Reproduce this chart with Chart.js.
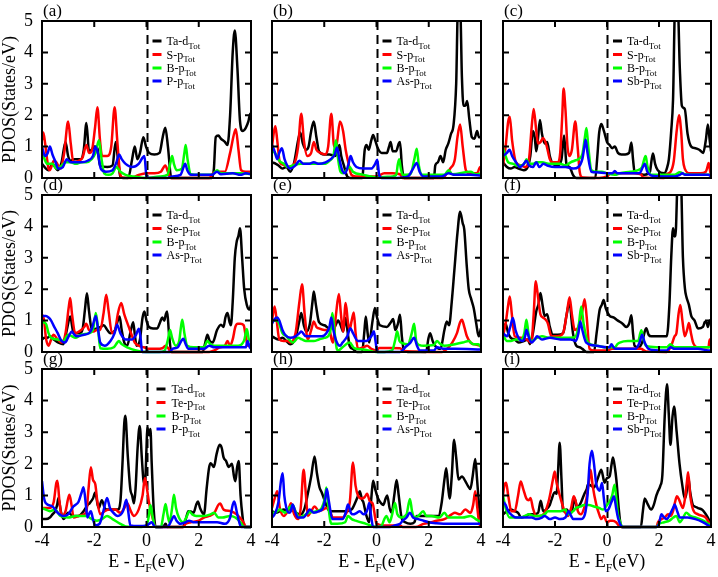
<!DOCTYPE html>
<html><head><meta charset="utf-8">
<script src="https://cdn.jsdelivr.net/npm/chart.js@4.4.0/dist/chart.umd.min.js"></script>
<style>
body{margin:0;background:#fff;}
#wrap{position:relative;width:718px;height:577px;overflow:hidden;background:#fff;}
#wrap canvas{position:absolute;}
</style></head><body><div id="wrap"></div>
<script>
const energyTicks = [-4,-2,0,2,4];
const pdosTicks = [0,1,2,3,4,5];
const panelLabels = ['(a)','(b)','(c)','(d)','(e)','(f)','(g)','(h)','(i)'];
const speciesNames = [
 ['Ta-d','S-p','B-p','P-p'],['Ta-d','S-p','B-p','As-p'],['Ta-d','S-p','B-p','Sb-p'],
 ['Ta-d','Se-p','B-p','As-p'],['Ta-d','Se-p','B-p','As-p'],['Ta-d','Se-p','B-p','Sb-p'],
 ['Ta-d','Te-p','B-p','P-p'],['Ta-d','Te-p','B-p','As-p'],['Ta-d','Te-p','B-p','Sb-p']];
const seriesColors = ['#000000','#ff0000','#00ff00','#0000ff'];
const yTitle = 'PDOS(States/eV)';

// ---- (a)
const a_Ta=[[-4,.45],[-3.85,.3],[-3.75,.25],[-3.6,.45],[-3.5,.35],[-3.4,.25],[-3.25,.5],[-3.1,1.15],[-3.0,.7],[-2.9,.55],[-2.75,.6],[-2.5,.6],[-2.4,.9],[-2.3,1.75],[-2.2,.85],[-2.1,.9],[-2.0,1.0],[-1.88,.95],[-1.78,.4],[-1.5,.35],[-1.3,.4],[-1.18,1.15],[-1.08,.5],[-1.0,.05],[-0.9,0],[-0.7,0],[-0.55,.6],[-0.45,1.0],[-0.35,.6],[-0.25,.8],[-0.12,1.3],[-0.02,1.0],[0.1,.8],[0.3,.75],[0.5,.8],[0.62,1.3],[0.72,1.6],[0.82,1.0],[0.95,0],[2.5,0],[2.58,.3],[2.65,1.3],[2.75,1.35],[2.85,1.25],[3.0,1.15],[3.1,1.05],[3.2,2.0],[3.3,4.0],[3.38,4.7],[3.48,3.5],[3.58,1.8],[3.68,1.5],[3.8,1.6],[3.9,1.8],[3.97,2.05],[4.0,1.9]];
const a_S=[[-4,1.2],[-3.95,1.45],[-3.88,1.1],[-3.75,.3],[-3.7,.25],[-3.55,.55],[-3.45,.5],[-3.3,.3],[-3.15,.8],[-3.0,1.8],[-2.9,1.1],[-2.8,.5],[-2.6,.55],[-2.45,.65],[-2.3,1.05],[-2.2,.8],[-2.1,.85],[-1.97,1.6],[-1.88,2.25],[-1.78,1.2],[-1.7,.7],[-1.5,.7],[-1.35,1.0],[-1.22,2.25],[-1.12,1.2],[-1.02,.2],[-0.95,0.02],[-0.6,0],[-0.3,.1],[0,.15],[0.3,.15],[0.55,.2],[0.72,.4],[0.82,.2],[0.92,0],[2.4,0],[2.55,.15],[2.7,.2],[3.0,.2],[3.2,.8],[3.35,1.4],[3.42,1.55],[3.52,.9],[3.62,.25],[3.8,.2],[4,.2]];
const a_B=[[-4,.85],[-3.9,.6],[-3.8,.45],[-3.6,.45],[-3.45,.3],[-3.3,.35],[-3.1,.5],[-2.9,.5],[-2.7,.45],[-2.5,.5],[-2.3,.5],[-2.1,.6],[-1.95,.8],[-1.82,1.2],[-1.72,.6],[-1.62,.15],[-1.45,.1],[-1.3,.15],[-1.15,.35],[-1.0,.2],[-0.8,.1],[-0.5,.05],[0,0],[0.5,.05],[0.8,.1],[0.92,.5],[0.98,.7],[1.05,.45],[1.15,.25],[1.35,.3],[1.45,.8],[1.5,1.05],[1.57,.6],[1.7,.12],[2.0,.1],[2.5,.1],[2.7,.25],[2.85,.15],[3.2,.15],[3.6,.15],[4,.12]];
const a_P=[[-4,1.0],[-3.88,.7],[-3.78,.8],[-3.7,1.0],[-3.6,.75],[-3.5,.55],[-3.38,.3],[-3.2,.35],[-3.05,.6],[-2.9,.5],[-2.7,.5],[-2.5,.5],[-2.25,.55],[-2.05,.7],[-1.95,1.0],[-1.85,.75],[-1.75,.3],[-1.55,.2],[-1.3,.25],[-1.15,.5],[-1.05,.75],[-0.95,.6],[-0.8,.45],[-0.55,.35],[-0.3,.45],[-0.15,.65],[-0.08,.7],[0,.05],[0.1,0],[0.8,0],[1.0,.05],[1.3,.1],[1.42,.35],[1.48,.45],[1.56,.25],[1.7,.1],[2.0,.1],[2.5,.1],[2.7,.2],[2.85,.12],[3.3,.15],[3.6,.1],[3.8,.15],[4,.12]];
// ---- (b)
const b_Ta=[[-4,.5],[-3.85,.45],[-3.75,.4],[-3.6,.3],[-3.45,.35],[-3.3,.2],[-3.15,.5],[-3.0,1.2],[-2.92,1.45],[-2.82,1.1],[-2.7,.9],[-2.6,1.0],[-2.5,1.5],[-2.4,1.8],[-2.3,1.3],[-2.2,.85],[-2.0,.75],[-1.8,.75],[-1.6,.7],[-1.5,.8],[-1.42,1.05],[-1.35,.7],[-1.25,.4],[-1.12,.05],[-1.0,0],[-0.55,0],[-0.45,.9],[-0.38,1.05],[-0.3,.9],[-0.2,1.2],[-0.13,1.37],[-0.05,1.2],[0.05,.95],[0.2,.8],[0.4,.8],[0.48,1.0],[0.54,1.15],[0.62,.85],[0.75,.85],[0.85,1.1],[0.9,1.15],[0.97,.4],[1.05,0],[2.2,0],[2.25,.4],[2.35,.5],[2.45,.7],[2.55,.5],[2.65,.9],[2.75,1.1],[2.85,1.4],[2.95,1.7],[3.05,3.0],[3.12,5.5],[3.2,5.5],[3.27,3.2],[3.33,2.3],[3.4,2.3],[3.47,2.45],[3.55,1.9],[3.65,1.3],[3.75,1.25],[3.85,1.5],[3.92,1.3],[4,1.3]];
const b_S=[[-4,1.0],[-3.92,1.5],[-3.87,1.65],[-3.8,1.2],[-3.7,.5],[-3.5,.4],[-3.35,.35],[-3.15,.45],[-3.0,1.0],[-2.88,2.05],[-2.78,1.2],[-2.65,.7],[-2.5,.8],[-2.4,1.15],[-2.3,.9],[-2.15,.8],[-1.95,.75],[-1.85,1.0],[-1.73,2.05],[-1.62,1.0],[-1.52,1.1],[-1.4,1.8],[-1.28,1.5],[-1.18,.9],[-1.08,.5],[-0.96,.1],[-0.8,.05],[-0.3,.05],[0,.05],[0.3,.15],[0.6,.15],[0.9,.12],[1.0,0],[2.55,0],[2.65,.1],[2.82,.3],[3.0,.6],[3.1,1.3],[3.2,1.7],[3.3,1.0],[3.42,.25],[3.55,.15],[3.85,.15],[3.97,.35],[4,.3]];
const b_B=[[-4,.9],[-3.85,.75],[-3.72,.55],[-3.55,.45],[-3.4,.35],[-3.2,.4],[-2.9,.45],[-2.6,.45],[-2.3,.45],[-2.0,.45],[-1.8,.55],[-1.65,.7],[-1.55,1.2],[-1.47,.6],[-1.38,.2],[-1.28,.15],[-1.15,.25],[-1.03,.35],[-0.9,.2],[-0.5,.1],[0,0.02],[0.6,.05],[0.75,.1],[0.82,.45],[0.87,.6],[0.93,.3],[1.0,.1],[1.3,.12],[1.45,.6],[1.54,.93],[1.62,.4],[1.75,.1],[2.6,.1],[2.76,.25],[2.9,.12],[3.6,.2],[3.8,.12],[4,.15]];
const b_As=[[-4,1.05],[-3.9,.85],[-3.8,.6],[-3.72,.8],[-3.62,.95],[-3.52,.6],[-3.42,.4],[-3.3,.3],[-3.1,.4],[-2.95,.55],[-2.8,.45],[-2.6,.45],[-2.4,.5],[-2.2,.45],[-1.95,.5],[-1.75,.6],[-1.6,.75],[-1.51,.97],[-1.42,.6],[-1.3,.22],[-1.2,.15],[-1.07,.45],[-0.99,.7],[-0.9,.5],[-0.77,.35],[-0.5,.3],[-0.2,.3],[-0.05,.45],[0.03,.58],[0.1,.1],[0.2,0],[0.8,0],[1.2,.05],[1.4,.3],[1.54,.48],[1.65,.2],[1.8,.05],[2.5,.05],[2.76,.15],[3.0,.1],[3.6,.1],[4,.08]];
// ---- (c)
const c_Ta=[[-4,.5],[-3.85,.35],[-3.7,.3],[-3.55,.35],[-3.4,.3],[-3.2,.25],[-3.05,.35],[-2.95,.7],[-2.85,1.5],[-2.78,1.3],[-2.72,.85],[-2.65,1.3],[-2.58,1.85],[-2.5,1.4],[-2.4,1.1],[-2.3,1.15],[-2.2,.7],[-2.08,.45],[-1.9,.4],[-1.75,.6],[-1.65,1.35],[-1.56,.45],[-1.44,.35],[-1.31,.1],[-1.18,0],[-0.45,0],[-0.38,.6],[-0.3,1.45],[-0.22,1.72],[-0.12,1.5],[0.0,1.15],[0.1,1.05],[0.2,.95],[0.3,1.0],[0.42,.8],[0.55,.75],[0.7,.75],[0.85,.8],[0.94,1.13],[1.0,.6],[1.06,.2],[1.2,.15],[1.45,.1],[1.65,.2],[1.72,.6],[1.77,.78],[1.85,.45],[1.95,.25],[2.2,.15],[2.3,.3],[2.38,.6],[2.47,1.5],[2.54,2.5],[2.62,5.5],[2.72,5.5],[2.8,3.5],[2.88,2.3],[2.99,2.2],[3.1,1.4],[3.24,1.0],[3.4,.95],[3.55,.9],[3.7,.8],[3.8,1.2],[3.88,1.7],[3.95,1.2],[4,.85]];
const c_S=[[-4,.4],[-3.9,1.0],[-3.8,1.8],[-3.74,1.95],[-3.65,1.2],[-3.5,.5],[-3.3,.4],[-3.15,.35],[-3.0,.6],[-2.9,1.6],[-2.82,2.2],[-2.72,1.5],[-2.65,1.1],[-2.55,1.15],[-2.46,1.27],[-2.33,1.05],[-2.2,.6],[-2.1,.5],[-1.9,.5],[-1.8,.8],[-1.72,2.0],[-1.67,2.85],[-1.6,2.2],[-1.52,1.0],[-1.44,.7],[-1.35,.9],[-1.22,1.8],[-1.13,1.0],[-1.05,.2],[-0.95,.02],[-0.3,0],[0,.05],[0.15,.15],[0.6,.15],[1.0,.15],[1.3,.12],[1.4,.02],[2.2,0],[2.3,.12],[2.45,.2],[2.57,.55],[2.68,1.5],[2.77,2.0],[2.85,1.5],[2.92,.6],[2.99,.3],[3.2,.15],[3.6,.15],[3.8,.2],[3.88,.4],[3.91,.48],[3.97,.2],[4,.1]];
const c_B=[[-4,.95],[-3.9,.7],[-3.8,.5],[-3.6,.45],[-3.5,.4],[-3.3,.4],[-3.15,.5],[-3.1,.6],[-3.0,.45],[-2.85,.45],[-2.7,.5],[-2.5,.5],[-2.2,.45],[-2.0,.45],[-1.8,.45],[-1.6,.4],[-1.4,.5],[-1.25,.55],[-1.1,.6],[-0.95,.75],[-0.85,1.3],[-0.79,1.59],[-0.72,1.0],[-0.6,.25],[-0.4,.2],[-0.2,.2],[0,.15],[0.3,.1],[0.5,.15],[0.9,.2],[1.2,.25],[1.35,.35],[1.45,.65],[1.49,.7],[1.55,.4],[1.7,.1],[2.2,.1],[2.6,.1],[2.8,.18],[3.0,.12],[3.5,.1],[4,.1]];
const c_Sb=[[-4,.7],[-3.85,.8],[-3.75,.9],[-3.65,.7],[-3.5,.5],[-3.35,.35],[-3.2,.45],[-3.1,.55],[-3.0,.4],[-2.85,.35],[-2.72,.5],[-2.6,.35],[-2.45,.45],[-2.3,.4],[-2.0,.35],[-1.6,.35],[-1.3,.3],[-1.1,.35],[-0.95,.6],[-0.85,1.1],[-0.82,1.22],[-0.75,.8],[-0.6,.2],[-0.4,.18],[0,.15],[0.2,.15],[0.3,.22],[0.4,.15],[0.6,.15],[1.0,.15],[1.25,.15],[1.38,.35],[1.45,.45],[1.55,.2],[1.7,.08],[2.2,.05],[2.6,.05],[2.8,.1],[2.9,.15],[3.0,.1],[3.5,.1],[3.9,.1],[4,.05]];
// ---- (d)
const d_Ta=[[-4,.4],[-3.9,.45],[-3.8,.45],[-3.69,.5],[-3.55,.4],[-3.37,.3],[-3.18,.25],[-3.05,.7],[-2.92,1.13],[-2.82,.7],[-2.73,.6],[-2.55,.6],[-2.44,.75],[-2.35,1.4],[-2.28,1.87],[-2.2,1.3],[-2.09,.7],[-1.9,.75],[-1.75,.8],[-1.64,.85],[-1.5,.7],[-1.38,.6],[-1.2,.7],[-1.1,1.0],[-1.03,1.13],[-0.95,.7],[-0.85,.3],[-0.74,.2],[-0.62,.6],[-0.51,.95],[-0.44,.5],[-0.38,.2],[-0.25,.4],[-0.15,1.1],[-0.08,1.29],[0.0,1.0],[0.09,.8],[0.25,.75],[0.41,.75],[0.52,.95],[0.6,1.1],[0.68,1.0],[0.74,1.2],[0.79,1.29],[0.86,.6],[0.95,0],[2.15,0],[2.25,.3],[2.33,.55],[2.42,.35],[2.53,.3],[2.7,.7],[2.85,.87],[2.95,.8],[3.02,1.1],[3.1,1.24],[3.18,.95],[3.23,.85],[3.3,1.6],[3.38,3.0],[3.45,3.5],[3.52,3.7],[3.58,3.94],[3.66,3.0],[3.74,2.0],[3.84,1.5],[3.94,1.35],[4,1.5]];
const d_Se=[[-4,1.2],[-3.92,1.0],[-3.85,.45],[-3.75,.2],[-3.65,.4],[-3.56,.55],[-3.4,.4],[-3.24,.3],[-3.1,.6],[-2.98,1.4],[-2.92,1.72],[-2.85,1.2],[-2.73,.6],[-2.5,.7],[-2.38,.8],[-2.31,.9],[-2.2,.7],[-2.05,.65],[-1.9,.7],[-1.77,.7],[-1.65,1.2],[-1.54,1.82],[-1.45,1.3],[-1.32,.6],[-1.2,.7],[-1.1,1.2],[-0.97,1.56],[-0.85,1.2],[-0.68,.8],[-0.55,.5],[-0.45,.3],[-0.3,.2],[-0.1,.15],[0.1,.1],[0.4,.1],[0.6,.12],[0.73,.2],[0.85,.1],[0.92,0],[2.4,0],[2.6,.05],[2.8,.15],[3.0,.2],[3.1,.35],[3.2,.2],[3.3,.4],[3.4,.8],[3.49,.9],[3.6,.9],[3.72,.85],[3.8,.5],[3.87,.2],[4,.2]];
const d_B=[[-4,.95],[-3.85,.9],[-3.75,.6],[-3.65,.45],[-3.4,.4],[-3.18,.35],[-3.0,.55],[-2.85,.5],[-2.73,.45],[-2.5,.55],[-2.2,.6],[-2.05,.7],[-1.94,1.24],[-1.85,.7],[-1.77,.12],[-1.5,.1],[-1.25,.15],[-1.12,.3],[-1.06,.35],[-0.95,.25],[-0.74,.15],[-0.4,.05],[0,0],[0.5,0],[0.7,.05],[0.82,.4],[0.9,.7],[0.98,.45],[1.12,.2],[1.25,.35],[1.32,.8],[1.37,1.03],[1.45,.6],[1.56,.2],[1.8,.15],[2.2,.15],[2.33,.35],[2.45,.25],[2.6,.2],[3.0,.2],[3.4,.2],[3.6,.22],[3.75,.4],[3.84,.73],[3.92,.4],[4,.35]];
const d_As=[[-4,1.15],[-3.85,1.15],[-3.75,1.1],[-3.65,1.0],[-3.56,.85],[-3.4,.6],[-3.25,.35],[-3.12,.3],[-2.98,.5],[-2.86,.65],[-2.76,.55],[-2.67,.5],[-2.4,.55],[-2.2,.6],[-2.09,.75],[-1.99,1.05],[-1.94,1.15],[-1.85,.7],[-1.77,.3],[-1.6,.2],[-1.38,.35],[-1.22,.6],[-1.13,.87],[-1.0,.6],[-0.81,.4],[-0.55,.4],[-0.4,.55],[-0.29,.74],[-0.22,.4],[-0.17,0],[0.9,0],[0.99,.1],[1.2,.15],[1.33,.35],[1.41,.42],[1.5,.25],[1.6,.1],[2.2,.1],[2.4,.2],[2.6,.15],[3.4,.15],[3.8,.15],[3.87,.35],[3.95,.15],[4,.1]];
// ---- (e)
const e_Ta=[[-4,.5],[-3.9,.45],[-3.75,.4],[-3.6,.45],[-3.45,.35],[-3.3,.25],[-3.1,.45],[-2.95,1.0],[-2.88,1.24],[-2.78,.85],[-2.69,.65],[-2.55,.9],[-2.45,1.6],[-2.4,1.93],[-2.32,1.5],[-2.2,.95],[-1.99,.85],[-1.8,.75],[-1.6,.8],[-1.47,1.0],[-1.35,.8],[-1.28,.65],[-1.18,1.08],[-1.1,.6],[-1.03,.2],[-0.9,.1],[-0.75,0],[-0.55,0],[-0.47,.6],[-0.41,1.13],[-0.34,.6],[-0.28,.3],[-0.15,1.0],[-0.06,1.4],[0.02,1.1],[0.13,.85],[0.4,.8],[0.55,.95],[0.64,1.05],[0.72,.7],[0.82,.9],[0.9,1.19],[0.97,.5],[1.05,.05],[1.2,0],[1.9,0],[1.98,.4],[2.05,.6],[2.15,.35],[2.24,.2],[2.45,.1],[2.6,.7],[2.69,.97],[2.78,.85],[2.88,1.6],[2.98,2.6],[3.1,3.8],[3.2,4.47],[3.3,4.1],[3.36,3.9],[3.45,2.8],[3.53,2.0],[3.62,1.7],[3.72,1.4],[3.82,.9],[3.91,.5],[4,.75]];
const e_Se=[[-4,1.0],[-3.9,1.45],[-3.82,1.0],[-3.72,.4],[-3.55,.35],[-3.4,.35],[-3.3,.3],[-3.1,.6],[-2.95,1.6],[-2.85,2.16],[-2.75,1.2],[-2.63,.4],[-2.5,.7],[-2.4,.97],[-2.3,.8],[-2.2,.75],[-2.0,.7],[-1.8,.7],[-1.72,.4],[-1.67,.3],[-1.55,1.2],[-1.44,1.85],[-1.36,1.2],[-1.28,.65],[-1.18,1.56],[-1.1,1.0],[-1.03,.7],[-0.95,1.0],[-0.87,1.26],[-0.8,.6],[-0.71,.1],[-0.5,.15],[-0.36,.2],[-0.2,.1],[0,.05],[0.1,.13],[0.5,.13],[0.9,.12],[1.05,.03],[2.5,0],[2.7,.1],[2.9,.3],[3.08,.6],[3.2,.95],[3.27,1.03],[3.36,.8],[3.46,.5],[3.6,.3],[3.72,.25],[4,.2]];
const e_B=[[-4,1.0],[-3.85,1.0],[-3.75,.95],[-3.6,.6],[-3.45,.5],[-3.2,.3],[-3.0,.45],[-2.85,.4],[-2.7,.35],[-2.4,.35],[-2.2,.4],[-2.0,.45],[-1.85,.5],[-1.76,.7],[-1.69,1.24],[-1.6,.6],[-1.52,.1],[-1.47,.05],[-1.3,.15],[-1.1,.28],[-1.03,.3],[-0.85,.12],[-0.5,.08],[-0.3,.05],[0,0],[0.3,0],[0.6,.05],[0.72,.4],[0.79,.66],[0.88,.35],[1.0,.28],[1.2,.25],[1.35,.6],[1.44,.9],[1.52,.35],[1.65,.22],[1.8,.2],[2.2,.22],[2.31,.35],[2.45,.25],[2.6,.2],[3.0,.25],[3.3,.3],[3.53,.35],[3.7,.25],[3.9,.25],[4,.15]];
const e_As=[[-4,.9],[-3.9,1.05],[-3.8,1.1],[-3.72,1.0],[-3.6,.7],[-3.5,.55],[-3.3,.45],[-3.1,.5],[-2.95,.6],[-2.88,.65],[-2.7,.5],[-2.4,.5],[-2.1,.5],[-1.92,.6],[-1.8,.8],[-1.73,1.1],[-1.65,.7],[-1.54,.35],[-1.4,.2],[-1.3,.3],[-1.12,.5],[-1.0,.76],[-0.9,.6],[-0.71,.35],[-0.4,.35],[-0.2,.5],[-0.1,.66],[-0.03,.3],[0.03,0],[0.9,0],[1.1,.15],[1.3,.3],[1.44,.45],[1.55,.2],[1.65,.05],[2.2,.05],[2.31,.15],[2.6,.1],[3.0,.1],[4,.08]];
// ---- (f)
const f_Ta=[[-4,.7],[-3.9,.9],[-3.8,.6],[-3.7,.45],[-3.55,.4],[-3.4,.3],[-3.2,.35],[-3.04,.4],[-2.97,.25],[-2.85,.6],[-2.72,1.3],[-2.64,1.5],[-2.56,1.88],[-2.48,1.5],[-2.4,1.15],[-2.3,1.2],[-2.2,.8],[-2.08,.55],[-1.9,.55],[-1.69,.6],[-1.55,1.2],[-1.44,1.6],[-1.36,1.0],[-1.31,.6],[-1.18,.2],[-1.05,.15],[-0.95,.1],[-0.79,0],[-0.5,0],[-0.4,.6],[-0.28,1.35],[-0.2,1.5],[-0.13,1.66],[-0.05,1.4],[0.1,1.15],[0.25,1.1],[0.42,1.0],[0.6,.9],[0.74,.8],[0.85,.9],[0.94,1.17],[1.0,.6],[1.06,.2],[1.2,.15],[1.35,.3],[1.45,.65],[1.51,.76],[1.6,.55],[1.71,.5],[2.0,.5],[2.3,.5],[2.4,1.5],[2.47,3.0],[2.54,3.94],[2.6,3.68],[2.65,3.9],[2.72,5.5],[2.84,5.5],[2.92,3.0],[3.0,2.0],[3.05,1.77],[3.15,1.5],[3.24,1.15],[3.37,1.0],[3.5,.75],[3.69,.8],[3.76,.95],[3.82,.97],[3.88,.8],[3.95,1.0],[4,.9]];
const f_Se=[[-4,.5],[-3.9,.9],[-3.8,1.5],[-3.74,1.77],[-3.66,1.2],[-3.55,.5],[-3.3,.45],[-3.1,.4],[-2.91,.3],[-2.82,1.2],[-2.74,2.25],[-2.66,1.8],[-2.56,1.2],[-2.46,1.1],[-2.33,1.0],[-2.27,.9],[-2.14,.5],[-1.9,.5],[-1.69,.6],[-1.55,1.2],[-1.44,1.74],[-1.35,1.2],[-1.24,.7],[-1.1,.8],[-0.95,1.3],[-0.86,1.68],[-0.78,1.1],[-0.67,.1],[-0.5,.05],[0,.05],[0.2,.1],[0.8,.1],[1.3,.1],[1.5,.02],[2.3,0],[2.47,.2],[2.6,.5],[2.67,.6],[2.75,1.2],[2.82,1.5],[2.9,1.0],[2.99,.5],[3.08,.7],[3.15,.92],[3.23,.6],[3.31,.3],[3.5,.15],[3.9,.15],[3.95,.4],[4,.3]];
const f_B=[[-4,.55],[-3.85,.35],[-3.7,.35],[-3.5,.4],[-3.3,.4],[-3.18,.6],[-3.1,1.03],[-3.02,.6],[-2.91,.35],[-2.7,.45],[-2.5,.5],[-2.2,.45],[-1.8,.45],[-1.4,.45],[-1.2,.5],[-1.08,.9],[-0.99,1.45],[-0.9,.9],[-0.73,.3],[-0.4,.2],[0,.15],[0.3,.15],[0.4,.25],[0.49,.3],[0.8,.35],[1.2,.35],[1.28,.6],[1.32,.69],[1.4,.4],[1.5,.2],[1.9,.15],[2.3,.15],[2.44,.25],[2.6,.15],[3.2,.15],[4,.15]];
const f_Sb=[[-4,.6],[-3.85,.5],[-3.72,.8],[-3.62,1.08],[-3.52,.7],[-3.4,.45],[-3.25,.35],[-3.15,.5],[-3.1,.71],[-3.0,.45],[-2.9,.3],[-2.78,.4],[-2.69,.5],[-2.5,.4],[-2.2,.45],[-1.8,.4],[-1.4,.4],[-1.2,.35],[-1.1,.6],[-1.03,.97],[-0.95,.7],[-0.8,.3],[-0.4,.2],[0,.15],[0.1,.15],[0.17,.25],[0.25,.15],[0.35,.1],[1.1,.1],[1.25,.3],[1.35,.55],[1.45,.3],[1.6,.1],[2.0,.05],[2.3,.05],[2.44,.15],[2.6,.1],[3.5,.1],[3.9,.05],[4,.05]];
// ---- (g)
const g_Ta=[[-4,.25],[-3.85,.25],[-3.7,.3],[-3.6,.4],[-3.5,.5],[-3.42,.7],[-3.37,.92],[-3.28,.5],[-3.18,.25],[-3.0,.45],[-2.8,.35],[-2.6,.35],[-2.41,.5],[-2.25,.7],[-2.18,.75],[-2.05,.9],[-1.96,1.09],[-1.87,.7],[-1.83,.6],[-1.71,.85],[-1.6,.6],[-1.51,.55],[-1.3,.55],[-1.1,.55],[-1.0,.8],[-0.92,2.0],[-0.85,3.3],[-0.81,3.52],[-0.72,2.3],[-0.62,1.2],[-0.55,1.0],[-0.48,.75],[-0.42,1.2],[-0.34,2.5],[-0.26,3.2],[-0.18,2.2],[-0.12,1.5],[-0.06,1.35],[0.0,2.5],[0.03,3.15],[0.1,2.9],[0.15,3.1],[0.2,2.0],[0.28,.5],[0.35,0],[0.6,0],[0.68,.05],[0.73,.1],[0.8,0],[1.4,0],[1.52,.3],[1.6,.5],[1.69,.49],[1.8,.45],[1.9,.7],[1.97,.81],[2.05,.6],[2.2,.4],[2.3,1.2],[2.4,1.9],[2.46,2.02],[2.58,1.9],[2.68,2.3],[2.8,2.6],[2.88,2.5],[2.95,2.2],[3.04,2.1],[3.15,1.9],[3.27,2.0],[3.35,1.6],[3.4,1.45],[3.47,1.9],[3.53,2.09],[3.6,1.0],[3.68,.3],[3.74,0],[4,0]];
const g_Te=[[-4,.6],[-3.85,.6],[-3.7,.6],[-3.55,.8],[-3.45,1.4],[-3.41,1.46],[-3.33,.8],[-3.24,.35],[-3.1,.5],[-3.0,.9],[-2.95,1.02],[-2.87,.7],[-2.79,.3],[-2.6,.35],[-2.4,.4],[-2.3,.5],[-2.22,1.2],[-2.13,1.89],[-2.05,1.5],[-1.96,1.35],[-1.88,.8],[-1.77,.4],[-1.6,.5],[-1.4,.55],[-1.2,.55],[-1.0,.45],[-0.85,.6],[-0.74,.75],[-0.6,.5],[-0.49,.35],[-0.3,.55],[-0.15,1.0],[-0.06,1.55],[0.02,1.2],[0.09,.8],[0.2,.4],[0.35,0],[1.4,0],[1.5,.1],[1.69,.15],[2.0,.2],[2.2,.3],[2.4,.35],[2.6,.45],[2.75,.7],[2.82,.74],[2.95,.55],[3.23,.5],[3.45,.4],[3.62,.25],[3.74,.1],[3.8,0],[4,0]];
const g_B=[[-4,.6],[-3.85,.55],[-3.7,.5],[-3.5,.55],[-3.3,.35],[-3.0,.3],[-2.7,.35],[-2.3,.35],[-2.1,.25],[-1.9,.2],[-1.7,.25],[-1.51,.35],[-1.3,.25],[-1.0,.1],[-0.8,.02],[-0.2,0],[0,.05],[0.1,.4],[0.15,.7],[0.22,.4],[0.3,.05],[0.35,0],[0.55,0],[0.65,.4],[0.73,.73],[0.8,.4],[0.88,.15],[0.98,.6],[1.05,1.02],[1.13,.6],[1.24,.3],[1.4,.15],[1.55,.35],[1.63,.5],[1.75,.4],[1.9,.35],[2.2,.35],[2.45,.4],[2.59,.45],[2.75,.3],[2.9,.3],[3.2,.35],[3.4,.3],[3.6,.15],[3.74,0],[4,0]];
const g_P=[[-4,1.45],[-3.92,.9],[-3.85,.75],[-3.6,.65],[-3.4,.45],[-3.2,.35],[-3.0,.4],[-2.8,.65],[-2.6,.8],[-2.48,1.1],[-2.41,1.26],[-2.32,.7],[-2.26,.3],[-2.18,.45],[-2.13,.5],[-2.05,.25],[-1.96,.05],[-1.8,.1],[-1.65,.5],[-1.51,.92],[-1.4,.6],[-1.32,.5],[-1.1,.35],[-0.9,.5],[-0.77,.86],[-0.7,.5],[-0.62,.05],[-0.3,.03],[0,.05],[0.1,.1],[0.2,.15],[0.3,.02],[0.35,0],[0.8,0],[0.95,.2],[1.05,.35],[1.15,.2],[1.3,.1],[1.5,.15],[1.63,.2],[1.8,.15],[2.5,.15],[2.7,.15],[3.0,.1],[3.2,.3],[3.3,.7],[3.36,.81],[3.45,.5],[3.55,.15],[3.62,0],[4,0]];
// ---- (h)
const h_Ta=[[-4,.5],[-3.85,.45],[-3.7,.5],[-3.55,.55],[-3.4,.5],[-3.27,.7],[-3.18,.5],[-3.08,.45],[-2.9,.4],[-2.75,.6],[-2.63,1.05],[-2.5,1.6],[-2.37,2.23],[-2.28,1.7],[-2.18,1.25],[-2.1,1.1],[-1.99,.85],[-1.8,.5],[-1.5,.5],[-1.2,.5],[-0.96,.55],[-0.8,.8],[-0.7,1.0],[-0.64,1.13],[-0.55,.85],[-0.51,.8],[-0.4,.4],[-0.28,.15],[-0.2,.9],[-0.13,1.46],[-0.05,1.2],[0.06,.9],[0.18,.75],[0.26,.7],[0.35,.9],[0.41,1.0],[0.5,.6],[0.58,.45],[0.68,1.0],[0.77,1.49],[0.85,1.0],[0.96,.3],[1.1,.15],[1.3,.1],[1.45,.15],[1.54,.35],[1.8,.35],[2.1,.35],[2.37,.35],[2.5,.8],[2.6,1.5],[2.67,1.86],[2.75,1.2],[2.8,.9],[2.88,1.6],[2.97,2.76],[3.05,2.2],[3.14,1.5],[3.27,1.6],[3.4,1.45],[3.5,1.3],[3.59,1.2],[3.68,1.6],[3.78,2.15],[3.85,1.5],[3.91,.85],[3.97,.3],[4,.1]];
const h_Te=[[-4,.6],[-3.9,.9],[-3.8,1.13],[-3.7,.6],[-3.55,.35],[-3.4,.5],[-3.27,.75],[-3.15,.4],[-3.0,.25],[-2.9,.6],[-2.79,1.81],[-2.7,1.0],[-2.63,.35],[-2.5,.5],[-2.37,.65],[-2.2,.5],[-2.05,.55],[-1.92,.6],[-1.8,.55],[-1.67,.3],[-1.5,.3],[-1.3,.3],[-1.15,.45],[-1.02,.8],[-0.9,2.04],[-0.8,1.3],[-0.71,1.0],[-0.55,.9],[-0.45,.95],[-0.36,1.05],[-0.25,.8],[-0.15,.75],[-0.05,.3],[0.0,.1],[0.3,.05],[0.9,.05],[1.0,0],[1.5,0],[1.8,.1],[2.1,.15],[2.3,.2],[2.6,.25],[2.88,.4],[3.0,.45],[3.2,.4],[3.4,.55],[3.6,.45],[3.7,.7],[3.78,1.13],[3.86,.6],[3.95,.05],[4,.05]];
const h_B=[[-4,.45],[-3.9,.45],[-3.8,.5],[-3.7,.55],[-3.6,.5],[-3.5,.45],[-3.35,.6],[-3.21,.7],[-3.1,.5],[-2.95,.3],[-2.8,.35],[-2.6,.45],[-2.3,.5],[-2.1,.6],[-1.98,.9],[-1.92,1.25],[-1.85,.7],[-1.73,.1],[-1.5,.1],[-1.2,.15],[-1.09,.35],[-0.95,.25],[-0.8,.2],[-0.4,.1],[0,0],[0.2,.05],[0.3,.25],[0.38,.35],[0.5,.15],[0.6,.4],[0.71,.76],[0.8,.4],[0.96,.3],[1.15,.4],[1.28,.89],[1.36,.5],[1.45,.3],[1.6,.35],[1.79,.5],[1.9,.35],[2.1,.35],[2.4,.3],[2.6,.45],[2.75,.3],[3.0,.3],[3.3,.3],[3.6,.35],[3.8,.25],[4,.15]];
const h_As=[[-4,.3],[-3.9,.4],[-3.75,.8],[-3.65,1.5],[-3.59,1.7],[-3.53,1.0],[-3.45,.6],[-3.35,.45],[-3.28,.5],[-3.21,.71],[-3.1,.45],[-3.01,.3],[-2.8,.3],[-2.65,.45],[-2.56,.55],[-2.4,.45],[-2.2,.5],[-2.05,.6],[-1.96,.9],[-1.9,1.2],[-1.82,.8],[-1.69,.25],[-1.5,.25],[-1.3,.25],[-1.18,.45],[-1.09,.71],[-0.98,.45],[-0.9,.4],[-0.75,.45],[-0.64,.5],[-0.5,.4],[-0.4,.45],[-0.33,.6],[-0.28,.76],[-0.2,.3],[-0.13,0],[0.5,0],[0.7,.05],[0.9,.1],[1.0,.2],[1.15,.3],[1.28,.45],[1.4,.3],[1.6,.25],[1.8,.2],[2.0,.15],[2.3,.12],[2.8,.1],[3.3,.1],[3.6,.1],[4,.1]];
// ---- (i)
const i_Ta=[[-4,.4],[-3.85,.5],[-3.7,.55],[-3.55,.5],[-3.42,.45],[-3.3,.3],[-3.1,.35],[-3.0,.4],[-2.8,.4],[-2.65,.45],[-2.55,.83],[-2.45,.5],[-2.35,.55],[-2.2,.7],[-2.14,.85],[-2.01,1.1],[-1.94,1.05],[-1.88,1.8],[-1.82,2.67],[-1.75,1.5],[-1.69,.5],[-1.55,.55],[-1.45,.45],[-1.37,.45],[-1.24,.9],[-1.15,.6],[-1.05,.7],[-0.99,.8],[-0.86,1.07],[-0.78,1.2],[-0.73,1.35],[-0.6,1.3],[-0.5,1.25],[-0.35,1.55],[-0.22,1.81],[-0.13,1.5],[-0.09,1.4],[0.0,1.55],[0.1,1.6],[0.18,2.0],[0.23,2.2],[0.3,1.9],[0.36,1.5],[0.45,.6],[0.55,0],[1.3,0],[1.38,.5],[1.45,.9],[1.55,.75],[1.7,.55],[1.8,.7],[1.9,1.0],[1.96,1.13],[2.05,1.3],[2.13,1.65],[2.22,3.5],[2.31,4.52],[2.38,3.5],[2.44,2.6],[2.52,3.5],[2.58,3.81],[2.68,3.0],[2.79,2.0],[2.9,1.3],[2.99,.9],[3.06,1.1],[3.12,1.6],[3.2,1.1],[3.3,.7],[3.37,.65],[3.5,.6],[3.65,.55],[3.76,.45],[3.88,.3],[4,.1]];
const i_Te=[[-4,1.0],[-3.95,1.3],[-3.88,1.4],[-3.8,1.0],[-3.68,.5],[-3.55,.5],[-3.42,1.0],[-3.32,1.44],[-3.22,1.2],[-3.1,.9],[-3.0,.85],[-2.94,.92],[-2.85,.6],[-2.72,.35],[-2.6,.35],[-2.4,.45],[-2.25,.8],[-2.17,1.1],[-2.08,1.5],[-2.01,1.76],[-1.94,1.4],[-1.88,1.2],[-1.75,.8],[-1.63,.5],[-1.5,.35],[-1.38,.6],[-1.28,.97],[-1.2,.8],[-1.12,.5],[-1.0,.4],[-0.88,.6],[-0.79,.9],[-0.7,1.4],[-0.63,1.81],[-0.55,1.3],[-0.41,.7],[-0.3,.4],[-0.22,.25],[-0.12,.35],[0.0,.15],[0.12,.2],[0.22,.2],[0.35,.15],[0.45,.05],[0.6,0],[1.9,0],[1.96,.15],[2.1,.25],[2.22,.3],[2.35,.4],[2.45,.35],[2.54,.5],[2.62,.8],[2.69,.97],[2.78,.85],[2.92,.6],[3.0,.9],[3.07,1.4],[3.12,1.73],[3.2,1.0],[3.31,.55],[3.5,.4],[3.8,.3],[3.95,.1],[4,.05]];
const i_B=[[-4,1.0],[-3.9,.6],[-3.75,.3],[-3.5,.3],[-3.3,.3],[-3.0,.4],[-2.8,.35],[-2.6,.35],[-2.4,.4],[-2.27,.5],[-2.0,.5],[-1.8,.5],[-1.6,.55],[-1.5,.4],[-1.3,.5],[-1.2,.6],[-1.0,.65],[-0.9,.7],[-0.7,.7],[-0.5,.65],[-0.3,.6],[-0.15,.55],[0,.7],[0.1,.8],[0.2,1.0],[0.29,1.34],[0.36,.9],[0.42,.4],[0.49,.2],[0.6,0],[1.9,0],[2.0,.1],[2.2,.15],[2.4,.2],[2.55,.3],[2.67,.35],[2.8,.15],[2.9,.25],[3.05,.45],[3.2,.35],[3.4,.3],[3.7,.2],[3.9,.1],[4,.05]];
const i_Sb=[[-4,.8],[-3.9,.7],[-3.8,.5],[-3.62,.35],[-3.5,.3],[-3.3,.3],[-3.1,.3],[-2.9,.3],[-2.7,.25],[-2.5,.3],[-2.4,.35],[-2.2,.25],[-2.0,.3],[-1.8,.25],[-1.6,.3],[-1.47,.5],[-1.38,.35],[-1.3,.25],[-1.0,.25],[-0.85,.4],[-0.75,1.0],[-0.67,2.0],[-0.58,2.41],[-0.5,2.0],[-0.42,1.4],[-0.35,1.2],[-0.28,1.15],[-0.19,1.39],[-0.12,.9],[-0.05,.5],[0.05,.55],[0.13,.7],[0.2,.85],[0.27,.97],[0.35,.6],[0.42,.3],[0.5,.1],[0.6,0],[1.9,0],[2.0,.1],[2.09,.4],[2.2,.3],[2.3,.25],[2.45,.45],[2.54,.6],[2.6,.71],[2.7,.5],[2.8,.3],[3.0,.3],[3.1,.3],[3.4,.25],[3.7,.15],[3.9,.05],[4,0]];

const panelSeries = [
 [a_Ta,a_S,a_B,a_P],[b_Ta,b_S,b_B,b_As],[c_Ta,c_S,c_B,c_Sb],
 [d_Ta,d_Se,d_B,d_As],[e_Ta,e_Se,e_B,e_As],[f_Ta,f_Se,f_B,f_Sb],
 [g_Ta,g_Te,g_B,g_P],[h_Ta,h_Te,h_B,h_As],[i_Ta,i_Te,i_B,i_Sb]];

// ---- layout (pixels)
const colX = [[42,251],[272,481],[503,711]];
const rowY = [[21,178],[195,352],[369,527]];
const ML=45, MT=22, MR=10, MB=50;
const SERIF = "'Liberation Serif','DejaVu Serif',serif";

function drawParts(ctx, parts, x, y, align){
  // parts: [text, fontSize, dy]
  let w = 0;
  parts.forEach(p=>{ctx.font = p[1]+'px '+SERIF; w += ctx.measureText(p[0]).width;});
  let cx = align==='center' ? x - w/2 : x;
  ctx.textAlign='left'; ctx.textBaseline='alphabetic';
  parts.forEach(p=>{ctx.font = p[1]+'px '+SERIF; ctx.fillText(p[0], cx, y + p[2]); cx += ctx.measureText(p[0]).width;});
}

function makePlugin(idx){
  const row = Math.floor(idx/3), col = idx%3;
  return {
    id:'deco'+idx,
    beforeDatasetsDraw(chart){
      const ctx = chart.ctx, a = chart.chartArea, xs = chart.scales.x;
      const x0 = Math.round(xs.getPixelForValue(0))+0.5;
      ctx.save();
      ctx.strokeStyle='#000'; ctx.lineWidth=2; ctx.setLineDash([9,5]);
      ctx.beginPath(); ctx.moveTo(x0,a.top); ctx.lineTo(x0,a.bottom); ctx.stroke();
      ctx.restore();
    },
    afterDraw(chart){
      const ctx = chart.ctx, a = chart.chartArea, xs = chart.scales.x, ys = chart.scales.y;
      ctx.save();
      ctx.strokeStyle='#000'; ctx.lineWidth=2; ctx.setLineDash([]);
      ctx.strokeRect(a.left, a.top, a.right-a.left, a.bottom-a.top);
      const tl = 6;
      ctx.beginPath();
      energyTicks.forEach(v=>{
        const px = xs.getPixelForValue(v);
        ctx.moveTo(px,a.bottom); ctx.lineTo(px,a.bottom-tl);
        ctx.moveTo(px,a.top); ctx.lineTo(px,a.top+tl);
      });
      pdosTicks.forEach(v=>{
        const py = ys.getPixelForValue(v);
        ctx.moveTo(a.left,py); ctx.lineTo(a.left+tl,py);
        ctx.moveTo(a.right,py); ctx.lineTo(a.right-tl,py);
      });
      ctx.stroke();
      // legend
      const x0 = xs.getPixelForValue(0);
      const mOff = (idx===6) ? 10 : 6, tOff = (idx===6) ? 25 : 20;
      const rowsY = [20, 33.5, 47, 60];
      ctx.fillStyle='#000';
      speciesNames[idx].forEach((nm,k)=>{
        const yy = a.top + rowsY[k];
        ctx.strokeStyle = seriesColors[k]; ctx.lineWidth = 3;
        ctx.beginPath(); ctx.moveTo(x0+mOff, yy); ctx.lineTo(x0+mOff+9, yy); ctx.stroke();
        ctx.fillStyle='#000';
        drawParts(ctx, [[nm,12,0],['Tot',9,3.5]], x0+tOff, yy+4, 'left');
      });
      // panel label
      ctx.fillStyle='#000';
      ctx.font = '17px '+SERIF; ctx.textAlign='left'; ctx.textBaseline='alphabetic';
      ctx.fillText(panelLabels[idx], a.left+1, a.top-5);
      // y title
      if(col===0){
        ctx.save();
        ctx.translate(a.left-32, (a.top+a.bottom)/2);
        ctx.rotate(-Math.PI/2);
        ctx.font = '18px '+SERIF; ctx.textAlign='center'; ctx.textBaseline='middle';
        ctx.fillText(yTitle, 0, 0);
        ctx.restore();
      }
      // x title
      if(row===2){
        drawParts(ctx, [['E - E',18,0],['F',12,5],['(eV)',18,0]], (a.left+a.right)/2, a.bottom+40, 'center');
      }
      ctx.restore();
    }
  };
}

const wrap = document.getElementById('wrap');
for(let idx=0; idx<9; idx++){
  const row = Math.floor(idx/3), col = idx%3;
  const [l,r] = colX[col], [t,b] = rowY[row];
  const cv = document.createElement('canvas');
  const W = (r-l)+ML+MR, H = (b-t)+MT+MB;
  cv.width = W; cv.height = H;
  cv.style.left = (l-ML)+'px'; cv.style.top = (t-MT)+'px';
  cv.style.width = W+'px'; cv.style.height = H+'px';
  wrap.appendChild(cv);
  const datasets = panelSeries[idx].map((ser,k)=>({
    label: speciesNames[idx][k],
    data: ser.map(p=>({x:p[0], y:p[1]})),
    borderColor: seriesColors[k], backgroundColor: seriesColors[k],
    borderWidth: 2.5, pointRadius: 0, fill:false,
    cubicInterpolationMode:'monotone', order: 4-k,
    clip: {left:0, right:0, top:0, bottom:3}
  }));
  new Chart(cv, {
    type:'line',
    data:{datasets},
    options:{
      responsive:false, animation:false, devicePixelRatio:1,
      layout:{padding:{top:MT, right:MR, left:0, bottom:0}},
      plugins:{legend:{display:false}, tooltip:{enabled:false}, title:{display:false}},
      scales:{
        x:{type:'linear', min:-4, max:4,
           afterBuildTicks(s){ s.ticks = energyTicks.map(v=>({value:v})); },
           afterFit(s){ s.height = MB; s.paddingLeft=0; s.paddingRight=0; },
           ticks:{display: row===2, color:'#000', padding:3, maxRotation:0, autoSkip:false,
                  font:{family:SERIF, size:18}, callback:v=>String(v)},
           grid:{display:false, drawTicks:false}, border:{display:false}},
        y:{type:'linear', min:0, max:5,
           afterBuildTicks(s){ s.ticks = pdosTicks.map(v=>({value:v})); },
           afterFit(s){ s.width = ML; s.paddingTop=0; s.paddingBottom=0; },
           ticks:{display: col===0, color:'#000', padding:9, autoSkip:false,
                  font:{family:SERIF, size:18}, callback:v=>String(v)},
           grid:{display:false, drawTicks:false}, border:{display:false}}
      }
    },
    plugins:[makePlugin(idx)]
  });
}
</script></body></html>
